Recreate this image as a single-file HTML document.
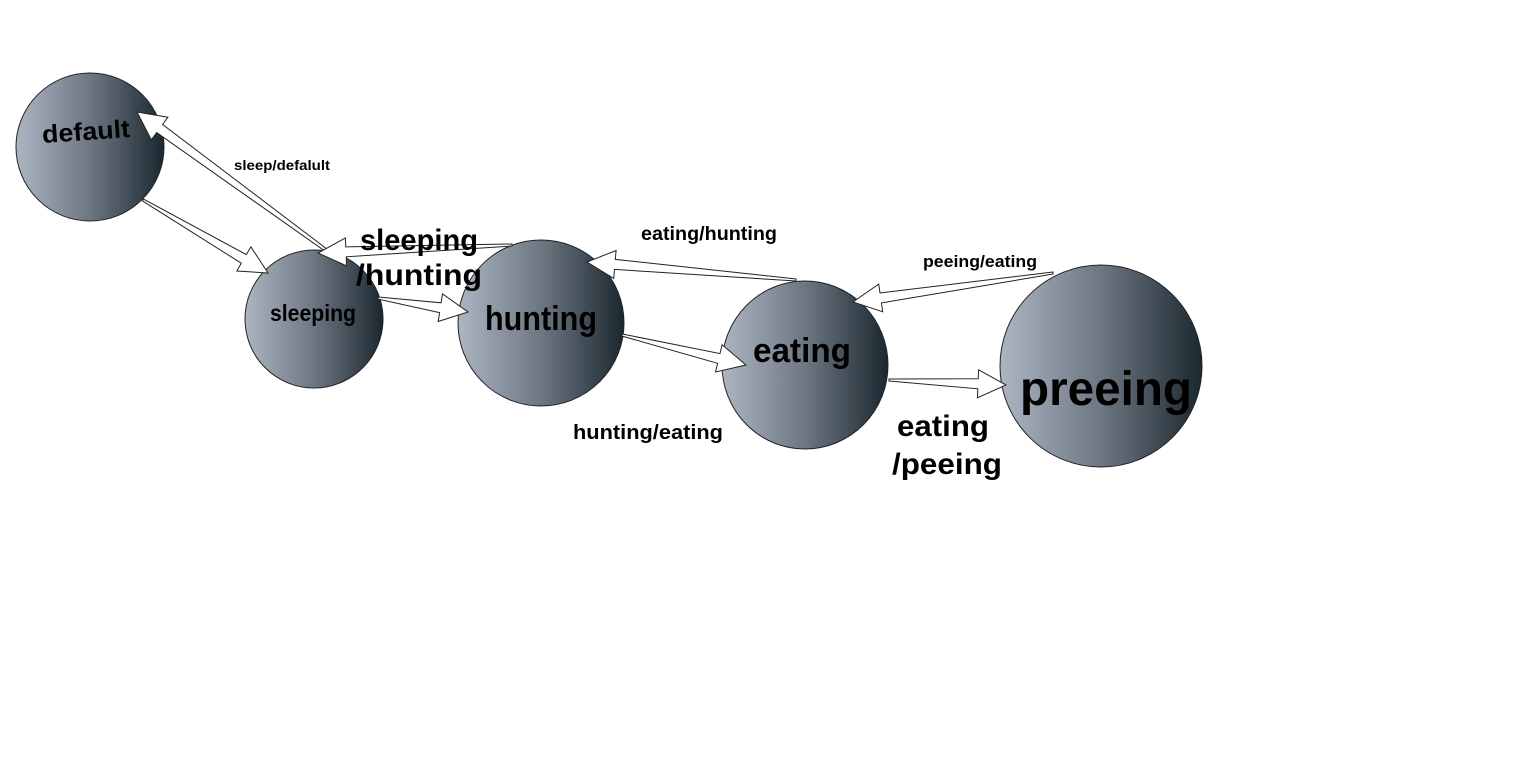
<!DOCTYPE html>
<html><head><meta charset="utf-8"><style>
html,body{margin:0;padding:0;background:#fff;width:1537px;height:780px;overflow:hidden}
svg{display:block}
text{font-family:"Liberation Sans",sans-serif;font-weight:bold;fill:#000}
</style></head><body>
<svg id="s" width="1537" height="780" viewBox="0 0 1537 780" xmlns="http://www.w3.org/2000/svg">
<defs><linearGradient id="g" x1="0" y1="0" x2="1" y2="0"><stop offset="0" stop-color="#adb5c3"/><stop offset="0.5" stop-color="#6d7782"/><stop offset="1" stop-color="#1c2830"/></linearGradient></defs>
<ellipse cx="90" cy="147" rx="74" ry="74" fill="url(#g)" stroke="#222" stroke-width="1"/>
<ellipse cx="314" cy="319" rx="69" ry="69" fill="url(#g)" stroke="#222" stroke-width="1"/>
<ellipse cx="541" cy="323" rx="83" ry="83" fill="url(#g)" stroke="#222" stroke-width="1"/>
<ellipse cx="805" cy="365" rx="83" ry="84" fill="url(#g)" stroke="#222" stroke-width="1"/>
<ellipse cx="1101" cy="366" rx="101" ry="101" fill="url(#g)" stroke="#222" stroke-width="1"/>
<g id="arrows"></g>
<text x="86" y="140" font-size="25" text-anchor="middle" transform="rotate(-4 86 132)" textLength="88" lengthAdjust="spacingAndGlyphs">default</text>
<text x="313" y="321" font-size="23" text-anchor="middle" textLength="86" lengthAdjust="spacingAndGlyphs">sleeping</text>
<text x="541" y="330" font-size="34" text-anchor="middle" textLength="112" lengthAdjust="spacingAndGlyphs">hunting</text>
<text x="802" y="362" font-size="34" text-anchor="middle" textLength="98" lengthAdjust="spacingAndGlyphs">eating</text>
<text x="1106" y="405" font-size="48" text-anchor="middle" textLength="172" lengthAdjust="spacingAndGlyphs">preeing</text>
<text x="282" y="170" font-size="14" text-anchor="middle" textLength="96" lengthAdjust="spacingAndGlyphs">sleep/defalult</text>
<text x="419" y="250" font-size="30" text-anchor="middle" textLength="118" lengthAdjust="spacingAndGlyphs">sleeping</text>
<text x="419" y="285" font-size="30" text-anchor="middle" textLength="126" lengthAdjust="spacingAndGlyphs">/hunting</text>
<text x="709" y="240" font-size="19" text-anchor="middle" textLength="136" lengthAdjust="spacingAndGlyphs">eating/hunting</text>
<text x="980" y="267" font-size="17" text-anchor="middle" textLength="114" lengthAdjust="spacingAndGlyphs">peeing/eating</text>
<text x="648" y="439" font-size="20" text-anchor="middle" textLength="150" lengthAdjust="spacingAndGlyphs">hunting/eating</text>
<text x="943" y="436" font-size="30" text-anchor="middle" textLength="92" lengthAdjust="spacingAndGlyphs">eating</text>
<text x="947" y="474" font-size="30" text-anchor="middle" textLength="110" lengthAdjust="spacingAndGlyphs">/peeing</text>
</svg>
<script>
var A=[[143,200,268,273],[345,264,137,112],[512,245,318,253],[378,298,468,312],[796,280,587,262],[622,335,746,365],[1053,273,853,302],[889,380,1006,385]];
var g=document.getElementById('arrows'),h='';
A.forEach(function(a){var dx=a[2]-a[0],dy=a[3]-a[1],L=Math.hypot(dx,dy),ux=dx/L,uy=dy/L,nx=-uy,ny=ux,tw=1,sw=5,hw=14,hl=28;
var bx=a[2]-ux*hl,by=a[3]-uy*hl;
var p=[[a[0]+nx*tw,a[1]+ny*tw],[bx+nx*sw,by+ny*sw],[bx+nx*hw,by+ny*hw],[a[2],a[3]],[bx-nx*hw,by-ny*hw],[bx-nx*sw,by-ny*sw],[a[0]-nx*tw,a[1]-ny*tw]];
h+='<polygon points="'+p.map(function(q){return q[0].toFixed(1)+','+q[1].toFixed(1)}).join(' ')+'" fill="#fff" stroke="#222" stroke-width="1"/>';});
g.innerHTML=h;
</script>
</body></html>
